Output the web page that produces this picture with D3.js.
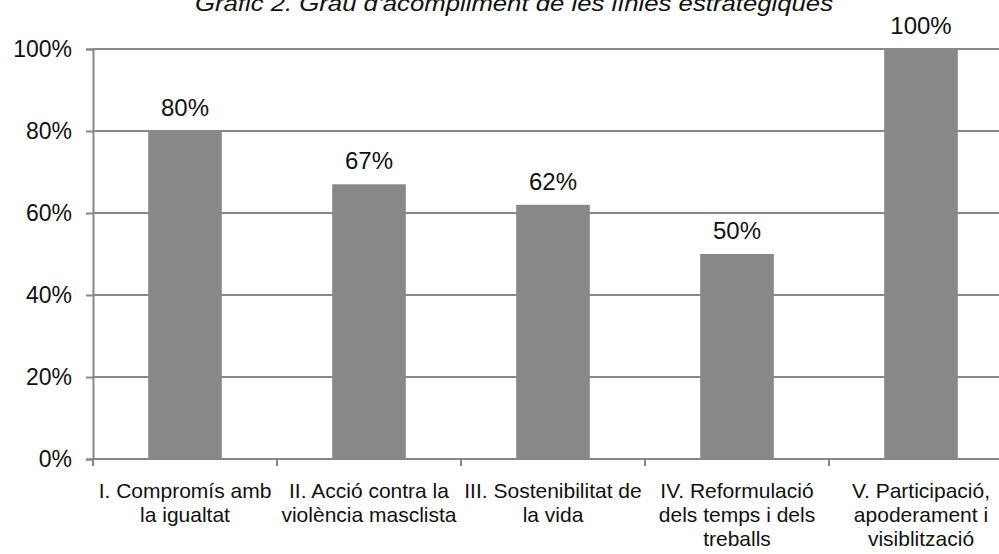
<!DOCTYPE html>
<html>
<head>
<meta charset="utf-8">
<script src="https://cdn.jsdelivr.net/npm/d3@7"></script>
<style>
  body { margin: 0; background: #fff; }
  svg { display: block; font-family: "Liberation Sans", Arial, sans-serif; }
</style>
</head>
<body>
<div id="chartId"></div>
<script>
// Data
const categories = [
  ["I. Compromís amb", "la igualtat"],
  ["II. Acció contra la", "violència masclista"],
  ["III. Sostenibilitat de", "la vida"],
  ["IV. Reformulació", "dels temps i dels", "treballs"],
  ["V. Participació,", "apoderament i", "visiblització"]
];
const values = [80, 67, 62, 50, 100];
const yTicks = [0, 20, 40, 60, 80, 100];
const title = "Gràfic 2. Grau d'acompliment de les línies estratègiques";

const W = 999, H = 554;
const margin = {top: 49, left: 93, bottom: 95};
const plotRight = 1013;
const gridColor = "#878787";

const svg = d3.select("#chartId").append("svg")
  .attr("width", W).attr("height", H);

const x = d3.scaleBand()
  .domain(d3.range(values.length))
  .range([margin.left, plotRight]);
const xBar = d3.scaleBand()
  .domain(d3.range(values.length))
  .range([margin.left, plotRight])
  .paddingInner(0.6).paddingOuter(0.3);
const y = d3.scaleLinear().domain([0, 100]).range([H - margin.bottom, margin.top]);

// title (cut off at top like the original)
svg.append("text")
  .attr("x", 195).attr("y", 11)
  .attr("textLength", 638)
  .attr("lengthAdjust", "spacingAndGlyphs")
  .style("font-style", "italic")
  .style("font-size", "22px")
  .attr("fill", "#111")
  .text(title);

// gridlines
svg.append("g").selectAll("line")
  .data(yTicks.filter(d => d > 0)).enter()
  .append("line")
  .attr("x1", margin.left).attr("x2", W)
  .attr("y1", d => y(d)).attr("y2", d => y(d))
  .attr("stroke", gridColor).attr("stroke-width", 2);

// bars
svg.append("g").selectAll("rect")
  .data(values).enter()
  .append("rect")
  .attr("x", (d, i) => xBar(i))
  .attr("width", xBar.bandwidth())
  .attr("y", d => y(d))
  .attr("height", d => y(0) - y(d))
  .attr("fill", "#888888");

// value labels
svg.append("g").selectAll("text")
  .data(values).enter()
  .append("text")
  .attr("x", (d, i) => xBar(i) + xBar.bandwidth() / 2)
  .attr("y", d => y(d) - 15)
  .attr("text-anchor", "middle")
  .style("font-size", "24px")
  .attr("fill", "#111")
  .text(d => d + "%");

// y axis
const yAxis = d3.axisLeft(y).tickValues(yTicks).tickFormat(d => d + "%").tickSize(7).tickPadding(14);
const gy = svg.append("g").attr("transform", "translate(" + margin.left + ",0)").call(yAxis);
gy.select(".domain").attr("stroke", gridColor).attr("stroke-width", 2);
gy.selectAll(".tick line").attr("stroke", gridColor).attr("stroke-width", 2);
gy.selectAll(".tick text").style("font-size", "23px").style("font-family", "Liberation Sans, Arial, sans-serif").attr("fill", "#111");

// x axis
const gx = svg.append("g").attr("transform", "translate(0," + y(0) + ")");
gx.append("line")
  .attr("x1", margin.left).attr("x2", W)
  .attr("stroke", gridColor).attr("stroke-width", 2);
gx.selectAll("line.tk")
  .data(d3.range(values.length + 1)).enter()
  .append("line").attr("class", "tk")
  .attr("x1", i => i < values.length ? x(i) : plotRight)
  .attr("x2", i => i < values.length ? x(i) : plotRight)
  .attr("y1", 0).attr("y2", 7)
  .attr("stroke", gridColor).attr("stroke-width", 2);

const labels = gx.selectAll("text.cat")
  .data(categories).enter()
  .append("text").attr("class", "cat")
  .attr("text-anchor", "middle")
  .style("font-size", "21px")
  .attr("fill", "#111");
labels.each(function(lines, i) {
  d3.select(this).selectAll("tspan")
    .data(lines).enter()
    .append("tspan")
    .attr("x", x(i) + x.bandwidth() / 2)
    .attr("y", (d, j) => 39 + j * 24)
    .text(d => d);
});
</script>
</body>
</html>
